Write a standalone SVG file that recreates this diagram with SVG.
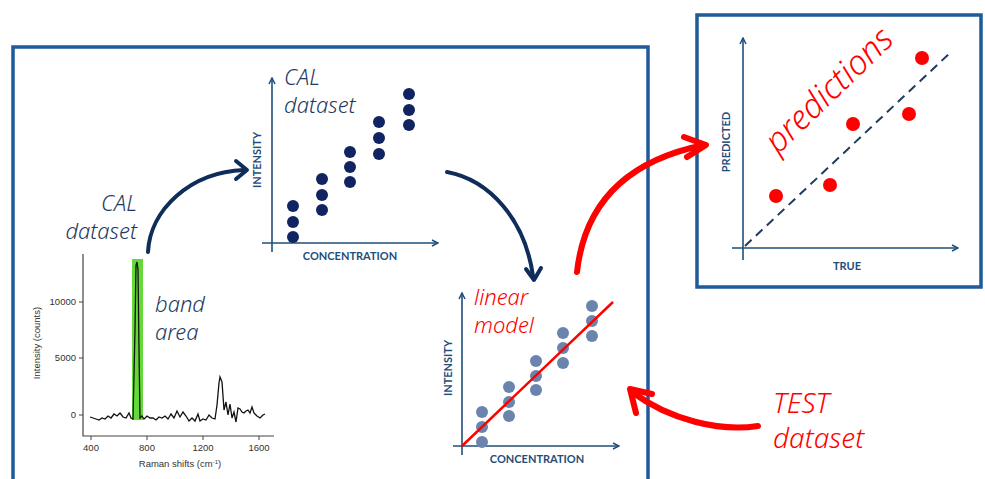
<svg xmlns="http://www.w3.org/2000/svg" width="985" height="479" viewBox="0 0 985 479">
<style>
.frame{fill:none;stroke:#1F5A9A;stroke-width:3.5}
.ax{fill:none;stroke:#1F4E79;stroke-width:1.6}
.axl{font-family:Lato,"Liberation Sans",sans-serif;font-weight:bold;font-size:11px;fill:#1F4E79}
.hand{font-family:"Noto Sans","DejaVu Sans",sans-serif;font-style:italic;font-weight:300}
.navy{fill:#0F2460}
.grey{fill:#6A84AE}
.red{fill:#FF0000}
.sp{font-family:"Liberation Sans",Arial,sans-serif;font-size:9.5px;fill:#333}
.conn{fill:none;stroke-linecap:round;stroke-linejoin:round}
</style>
<defs>
<marker id="ah" markerWidth="8" markerHeight="8" refX="7" refY="4" orient="auto" markerUnits="userSpaceOnUse">
<path d="M1,1 L7,4 L1,7" fill="none" stroke="#1F4E79" stroke-width="1.5"/>
</marker>
</defs>
<rect width="985" height="479" fill="#fff"/>

<g id="mainFrame">
<path class="frame" d="M13,490 L13,47 L648,47 L648,490"/>
</g>
<g id="resultFrame">
<rect class="frame" x="697" y="15" width="284" height="272"/>
</g>

<g id="spectrum">
<rect x="132" y="259" width="11" height="161" fill="#66D93A"/>
<path d="M83,254 L83,436 L274,436" fill="none" stroke="#444" stroke-width="1.2"/>
<path d="M79,302 L83,302 M79,358 L83,358 M79,415 L83,415 M91,436 L91,440 M147,436 L147,440 M203,436 L203,440 M259,436 L259,440" stroke="#444" stroke-width="1"/>
<text class="sp" x="76" y="305" text-anchor="end">10000</text>
<text class="sp" x="76" y="361" text-anchor="end">5000</text>
<text class="sp" x="76" y="418" text-anchor="end">0</text>
<text class="sp" x="91" y="451" text-anchor="middle">400</text>
<text class="sp" x="147" y="451" text-anchor="middle">800</text>
<text class="sp" x="203" y="451" text-anchor="middle">1200</text>
<text class="sp" x="259" y="451" text-anchor="middle">1600</text>
<text class="sp" x="180" y="467" text-anchor="middle">Raman shifts (cm<tspan font-size="6" dy="-3">-1</tspan><tspan dy="3">)</tspan></text>
<text class="sp" transform="translate(40,343) rotate(-90)" text-anchor="middle">Intensity (counts)</text>
<path d="M90,417 L93,418 96,419 99,420 102,418 105,419 108,416 111,418 114,414 117,416 120,413 123,417 126,418 129,413 131,418 133,419 135,330 136,265 137,262 138,270 139,350 140,418 142,416 144,419 147,416 150,418 153,418 156,420 159,417 162,418 165,416 168,419 171,414 174,418 177,411 180,417 183,412 186,416 189,421 192,418 195,421 198,414 200,421 203,419 206,420 209,415 212,418 215,419 217,405 219,383 220,377 222,382 224,410 226,402 228,415 230,404 232,418 234,412 236,422 238,408 240,409 242,412 244,413 246,411 248,410 250,413 252,407 254,413 257,416 260,418 263,415 265,414" fill="none" stroke="#111" stroke-width="1.3"/>
<text class="hand" font-size="22" fill="#1F3A5F" x="137" y="211" text-anchor="end">CAL</text>
<text class="hand" font-size="22" fill="#1F3A5F" x="137" y="239" text-anchor="end">dataset</text>
<text class="hand" font-size="22" fill="#1F3A5F" x="155" y="312">band</text>
<text class="hand" font-size="22" fill="#1F3A5F" x="155" y="340">area</text>
</g>

<g id="calPlot">
<path class="ax" d="M272,252 L272,78" marker-end="url(#ah)"/>
<path class="ax" d="M262,243 L438,243" marker-end="url(#ah)"/>
<text class="axl" transform="translate(261,160) rotate(-90)" text-anchor="middle">INTENSITY</text>
<text class="axl" x="350" y="260" text-anchor="middle">CONCENTRATION</text>
<g class="navy">
<circle cx="293" cy="206" r="6"/><circle cx="293" cy="222" r="6"/><circle cx="293" cy="237" r="6"/>
<circle cx="322" cy="179" r="6"/><circle cx="322" cy="195" r="6"/><circle cx="322" cy="210" r="6"/>
<circle cx="350" cy="152" r="6"/><circle cx="350" cy="167" r="6"/><circle cx="350" cy="182" r="6"/>
<circle cx="379" cy="122" r="6"/><circle cx="379" cy="138" r="6"/><circle cx="379" cy="154" r="6"/>
<circle cx="409" cy="94" r="6"/><circle cx="409" cy="110" r="6"/><circle cx="409" cy="125" r="6"/>
</g>
<text class="hand" font-size="22" fill="#1F3A5F" x="284" y="85">CAL</text>
<text class="hand" font-size="22" fill="#1F3A5F" x="284" y="113">dataset</text>
</g>

<g id="modelPlot">
<path class="ax" d="M462,455 L462,293" marker-end="url(#ah)"/>
<path class="ax" d="M453,446 L619,446" marker-end="url(#ah)"/>
<text class="axl" transform="translate(452,368) rotate(-90)" text-anchor="middle">INTENSITY</text>
<text class="axl" x="537" y="463" text-anchor="middle">CONCENTRATION</text>
<g class="grey">
<circle cx="482" cy="412" r="6"/><circle cx="482" cy="427" r="6"/><circle cx="482" cy="442" r="6"/>
<circle cx="509" cy="387" r="6"/><circle cx="509" cy="402" r="6"/><circle cx="509" cy="416" r="6"/>
<circle cx="536" cy="361" r="6"/><circle cx="536" cy="376" r="6"/><circle cx="536" cy="390" r="6"/>
<circle cx="563" cy="333" r="6"/><circle cx="563" cy="348" r="6"/><circle cx="563" cy="363" r="6"/>
<circle cx="592" cy="306" r="6"/><circle cx="592" cy="321" r="6"/><circle cx="592" cy="336" r="6"/>
</g>
<line x1="462" y1="446" x2="613" y2="302" stroke="#FF0000" stroke-width="2.5"/>
<text class="hand" font-size="22" fill="#FF0000" x="474" y="305">linear</text>
<text class="hand" font-size="22" fill="#FF0000" x="474" y="333">model</text>
</g>

<g id="predPlot">
<path class="ax" d="M743,260 L743,38" marker-end="url(#ah)"/>
<path class="ax" d="M732,248 L958,248" marker-end="url(#ah)"/>
<line x1="745" y1="246" x2="952" y2="51" stroke="#1F3A5F" stroke-width="2" stroke-dasharray="9,6"/>
<text class="axl" transform="translate(730,142) rotate(-90)" text-anchor="middle">PREDICTED</text>
<text class="axl" x="847" y="270" text-anchor="middle">TRUE</text>
<g class="red">
<circle cx="776" cy="196" r="7"/><circle cx="830" cy="185" r="7"/><circle cx="853" cy="124" r="7"/><circle cx="909" cy="114" r="7"/><circle cx="922" cy="58" r="7"/>
</g>
<text class="hand" font-size="34" fill="#FF0000" transform="translate(778,155) rotate(-44)">predictions</text>
</g>

<g id="testLabel">
<text class="hand" font-size="28" fill="#FF0000" x="773" y="413">TEST</text>
<text class="hand" font-size="28" fill="#FF0000" x="773" y="448">dataset</text>
</g>

<g id="connectors">
<path class="conn" d="M148,252 C150,210 190,172 244,170" stroke="#0F2D5A" stroke-width="4"/>
<path class="conn" d="M236,161 L247,170 L236,179" stroke="#0F2D5A" stroke-width="4"/>
<path class="conn" d="M447,172 C490,180 525,220 533,276" stroke="#0F2D5A" stroke-width="4"/>
<path class="conn" d="M526,269 L534,280 L541,268" stroke="#0F2D5A" stroke-width="4"/>
<path class="conn" d="M577,272 C585,200 630,160 704,145" stroke="#FF0000" stroke-width="6"/>
<path class="conn" d="M684,137 L706,145 L687,157" stroke="#FF0000" stroke-width="6"/>
<path class="conn" d="M758,426 C720,432 670,420 632,392" stroke="#FF0000" stroke-width="6"/>
<path class="conn" d="M652,394 L630,389 L636,413" stroke="#FF0000" stroke-width="6"/>
</g>
</svg>
